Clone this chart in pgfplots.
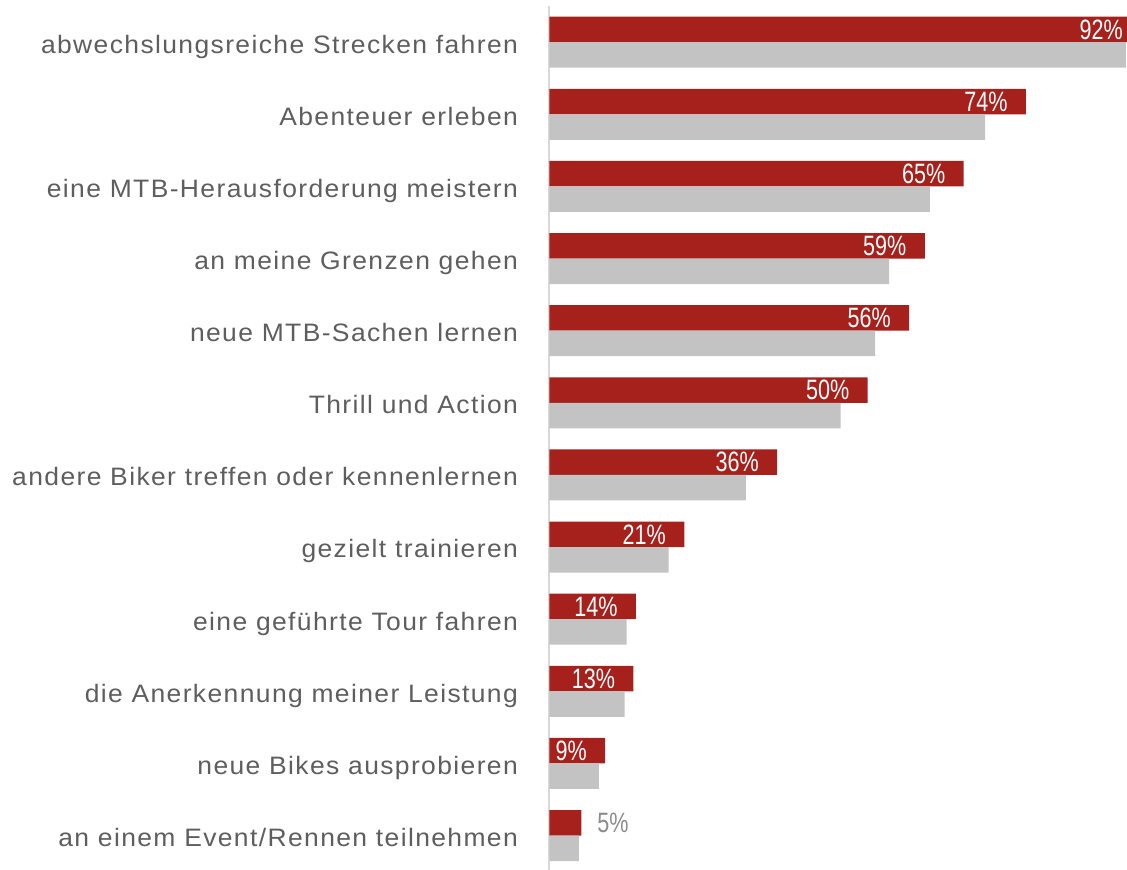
\documentclass[border=0pt]{standalone}
\usepackage{pgfplots}
\pgfplotsset{compat=1.18}
\usepackage{pgfplotstable}
\usepackage{fontspec}
\setmainfont{Liberation Sans}
\newfontfamily\catfont[FakeStretch=1.05,LetterSpace=5.5]{Liberation Sans}
\newfontfamily\numfont[FakeStretch=0.77]{Liberation Sans}
\definecolor{barred}{HTML}{A6211C}
\definecolor{bargray}{HTML}{C3C3C3}
\definecolor{labgray}{HTML}{5E5E5E}
\definecolor{lightgray5}{HTML}{8C8C8C}
\definecolor{axisline}{HTML}{D9D9D9}

\pgfplotstableread{
i red gray
0 92.0 91.8
1 75.9 69.4
2 66.0 60.6
3 59.8 54.1
4 57.3 51.9
5 50.7 46.4
6 36.3 31.3
7 21.5 19.0
8 13.8 12.3
9 13.4 12.0
10 8.9 7.9
11 5.1 4.7
}\bartab

\pgfplotstableread{
i lx lab
0 91.41 92
1 73.03 74
2 63.13 65
3 56.93 59
4 54.43 56
5 47.83 50
6 33.43 36
7 18.63 21
8 10.93 14
9 10.53 13
10 6.03 9
}\labtab

\pgfplotstableread{
i lx lab
11 7.6 5
}\lastlab

\begin{document}
\begin{tikzpicture}
\begin{axis}[
  scale only axis,
  width=288.85pt, height=432.72pt,
  xmin=0, xmax=92,
  ymin=-0.5, ymax=11.5,
  y dir=reverse,
  hide x axis,
  axis y line*=left,
  y axis line style={draw=axisline, line width=1pt},
  ytick={0,...,11},
  yticklabels={abwechslungsreiche Strecken fahren, Abenteuer erleben, eine MTB-Herausforderung meistern, an meine Grenzen gehen, neue MTB-Sachen lernen, Thrill und Action, andere Biker treffen oder kennenlernen, gezielt trainieren, eine geführte Tour fahren, die Anerkennung meiner Leistung, neue Bikes ausprobieren, an einem Event/Rennen teilnehmen},
  major tick length=0pt,
  yticklabel style={anchor=base east, inner sep=0pt, xshift=-15.5pt, yshift=-5.4pt, font=\catfont\fontsize{12.6}{14}\selectfont, text=labgray},
  clip=false,
]
\addplot[xbar, bar width=12.75pt, bar shift=0pt, fill=barred, draw=none]
  table[x=red, y expr=\thisrow{i}-0.1768] {\bartab};
\addplot[xbar, bar width=12.75pt, bar shift=0pt, fill=bargray, draw=none]
  table[x=gray, y expr=\thisrow{i}+0.1768] {\bartab};
\addplot[draw=none, mark=none, point meta=explicit symbolic,
  nodes near coords={\pgfplotspointmeta\%},
  nodes near coords align={anchor=east},
  every node near coord/.append style={inner sep=0pt, text=white, font=\numfont\fontsize{14}{14}\selectfont}]
  table[x=lx, y expr=\thisrow{i}-0.1768, meta=lab] {\labtab};
\addplot[draw=none, mark=none, point meta=explicit symbolic,
  nodes near coords={\pgfplotspointmeta\%},
  nodes near coords align={anchor=west},
  every node near coord/.append style={inner sep=0pt, text=lightgray5, font=\numfont\fontsize{14}{14}\selectfont}]
  table[x=lx, y expr=\thisrow{i}-0.1768, meta=lab] {\lastlab};
\end{axis}
\pgfresetboundingbox
\path (-274.65pt,1.3pt) rectangle (288.85pt,435.8pt);
\end{tikzpicture}
\end{document}
